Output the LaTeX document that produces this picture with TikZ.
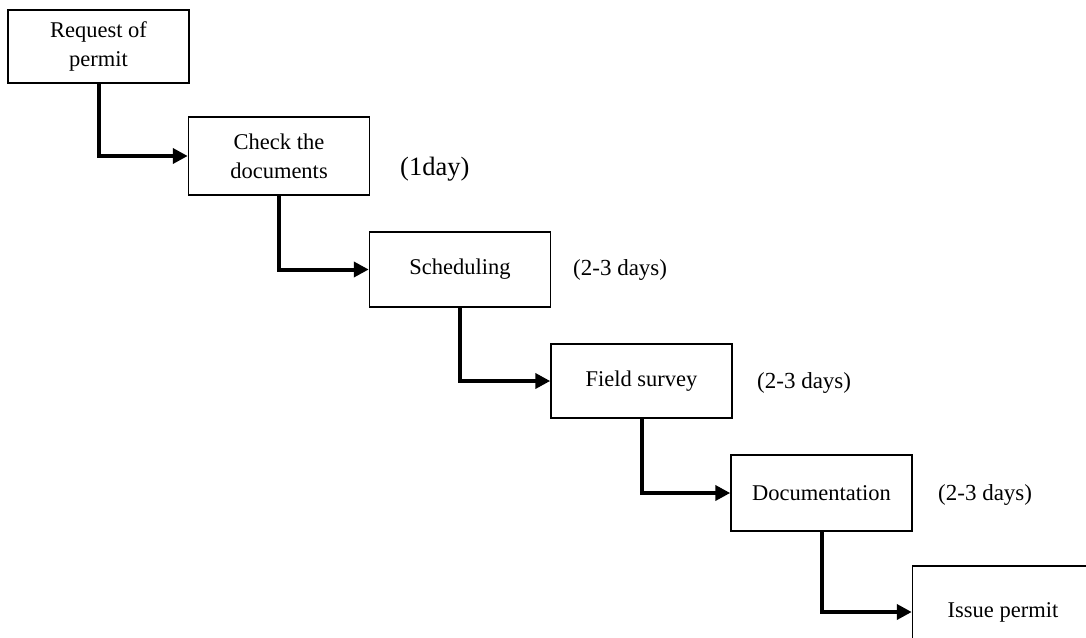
\documentclass[tikz,border=0pt]{standalone}
\usepackage{fontspec}
\setmainfont{Liberation Serif}
\usetikzlibrary{arrows.meta}
\begin{document}
\begin{tikzpicture}[x=1pt,y=-1pt,
  stepbox/.style={draw,line width=1.5pt,minimum width=181pt,inner sep=0pt,
    align=center,font=\fontsize{22.5}{29}\selectfont},
  days/.style={anchor=west,inner sep=0pt,font=\fontsize{23}{27}\selectfont},
  flow/.style={line width=4pt,-{Triangle[length=15pt,width=15pt]}}]
% page area, white background
\clip (0,0) rectangle (1086,637);
\fill[white] (0,0) rectangle (1086,637);

% process steps
\node[stepbox,minimum height=73pt] (req) at (98.5,46.5) {Request of\\permit};
\node[stepbox,minimum height=78pt] (chk) at (279,156) {Check the\\documents};
\node[stepbox,minimum height=75pt] (sch) at (460,269.5) {Scheduling};
\node[stepbox,minimum height=74pt] (fld) at (641.5,381) {Field survey};
\node[stepbox,minimum height=76pt] (doc) at (821.5,493) {Documentation};
\node[stepbox,minimum height=92pt] (iss) at (1003,612) {Issue permit};

% durations
\node[days,font=\fontsize{26.5}{30}\selectfont] (d1) at (400,169) {(1day)};
\node[days] (d2) at (573,270) {(2-3 days)};
\node[days] (d3) at (757,383) {(2-3 days)};
\node[days] (d4) at (938,495) {(2-3 days)};

% connectors
\draw[flow] (req.south) |- (chk.west);
\draw[flow] (chk.south) |- (sch.west);
\draw[flow] (sch.south) |- (fld.west);
\draw[flow] (fld.south) |- (doc.west);
\draw[flow] (doc.south) |- (iss.west);
\end{tikzpicture}
\end{document}
